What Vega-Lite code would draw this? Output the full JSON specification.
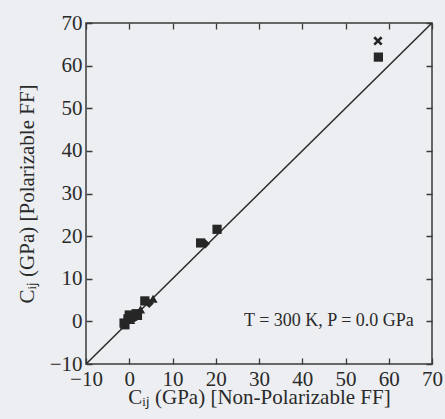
{
  "$schema": "https://vega.github.io/schema/vega-lite/v6.json",
  "autosize": "none",
  "width": 346,
  "height": 341,
  "padding": {"left": 86, "top": 23, "right": 13, "bottom": 55},
  "background": "#eceef1",
  "config": {
    "view": {"stroke": "#3a3a3a", "strokeWidth": 1.5},
    "font": "Liberation Serif",
    "axis": {
      "domain": false,
      "ticks": false,
      "labelFont": "Liberation Serif",
      "labelFontSize": 21,
      "labelColor": "#2a2a2a",
      "titleFont": "Liberation Serif",
      "titleFontSize": 21,
      "titleFontWeight": "normal",
      "titleColor": "#2a2a2a",
      "gridColor": "#3a3a3a",
      "gridOpacity": 1,
      "gridWidth": 1.3
    }
  },
  "layer": [
    {
      "data": {"values": [{"np": -10, "p": -10}, {"np": 70, "p": 70}]},
      "mark": {"type": "line", "color": "#2a2a2a", "strokeWidth": 1.5, "clip": true},
      "encoding": {
        "x": {
          "field": "np", "type": "quantitative",
          "scale": {"domain": [-10, 70], "nice": false, "zero": false},
          "axis": {
            "orient": "bottom",
            "values": [-10, -5, 0, 5, 10, 15, 20, 25, 30, 35, 40, 45, 50, 55, 60, 65, 70],
            "labelExpr": "datum.value % 10 == 0 ? datum.label : ''",
            "grid": true,
            "gridDash": [6, 329],
            "labelPadding": 4,
            "labelFlush": false,
            "labelOverlap": false,
            "title": "Cᵢⱼ (GPa) [Non-Polarizable FF]",
            "titlePadding": -3
          }
        },
        "y": {
          "field": "p", "type": "quantitative",
          "scale": {"domain": [-10, 70], "nice": false, "zero": false},
          "axis": {
            "orient": "left",
            "values": [-10, -5, 0, 5, 10, 15, 20, 25, 30, 35, 40, 45, 50, 55, 60, 65, 70],
            "labelExpr": "datum.value % 10 == 0 ? datum.label : ''",
            "grid": true,
            "gridDash": [6, 334],
            "labelPadding": 4,
            "labelFlush": false,
            "labelOverlap": false,
            "title": "Cᵢⱼ (GPa)  [Polarizable FF]",
            "titlePadding": 12
          }
        }
      }
    },
    {
      "data": {"values": [
        {"group": "x", "np": 57.5, "p": 65.8},
        {"group": "square", "np": 57.6, "p": 62.0},
        {"group": "square", "np": 16.5, "p": 18.4},
        {"group": "diamond", "np": 17.6, "p": 18.2},
        {"group": "square", "np": 20.3, "p": 21.6},
        {"group": "triangle", "np": 5.5, "p": 5.3},
        {"group": "square", "np": 3.6, "p": 4.8},
        {"group": "diamond", "np": 4.6, "p": 4.2},
        {"group": "triangle", "np": 2.6, "p": 2.8},
        {"group": "square", "np": 1.6, "p": 1.8},
        {"group": "square", "np": -1.0, "p": -0.8},
        {"group": "diamond", "np": -0.7, "p": 0.0},
        {"group": "square", "np": -0.3, "p": 0.6},
        {"group": "square", "np": 0.0, "p": 1.5},
        {"group": "triangle", "np": 0.3, "p": 0.3},
        {"group": "square", "np": 0.8, "p": 1.2},
        {"group": "diamond", "np": 1.2, "p": 0.8},
        {"group": "square", "np": 1.9, "p": 1.4},
        {"group": "square", "np": -1.2, "p": -0.4}
      ]},
      "mark": {"type": "point", "filled": true, "size": 85, "color": "#262626", "opacity": 1},
      "encoding": {
        "x": {"field": "np", "type": "quantitative"},
        "y": {"field": "p", "type": "quantitative"},
        "shape": {
          "field": "group", "type": "nominal", "legend": null,
          "scale": {"domain": ["square", "x", "diamond", "triangle"], "range": ["square", "M-1,-0.6L-0.6,-1L0,-0.4L0.6,-1L1,-0.6L0.4,0L1,0.6L0.6,1L0,0.4L-0.6,1L-1,0.6L-0.4,0Z", "diamond", "triangle-up"]}
        }
      }
    },
    {
      "data": {"values": [{"np": 65.8, "p": 0, "label": "T = 300 K, P = 0.0 GPa"}]},
      "mark": {"type": "text", "align": "right", "baseline": "middle", "font": "Liberation Serif", "fontSize": 18, "color": "#2a2a2a"},
      "encoding": {
        "x": {"field": "np", "type": "quantitative"},
        "y": {"field": "p", "type": "quantitative"},
        "text": {"field": "label"}
      }
    }
  ]
}
